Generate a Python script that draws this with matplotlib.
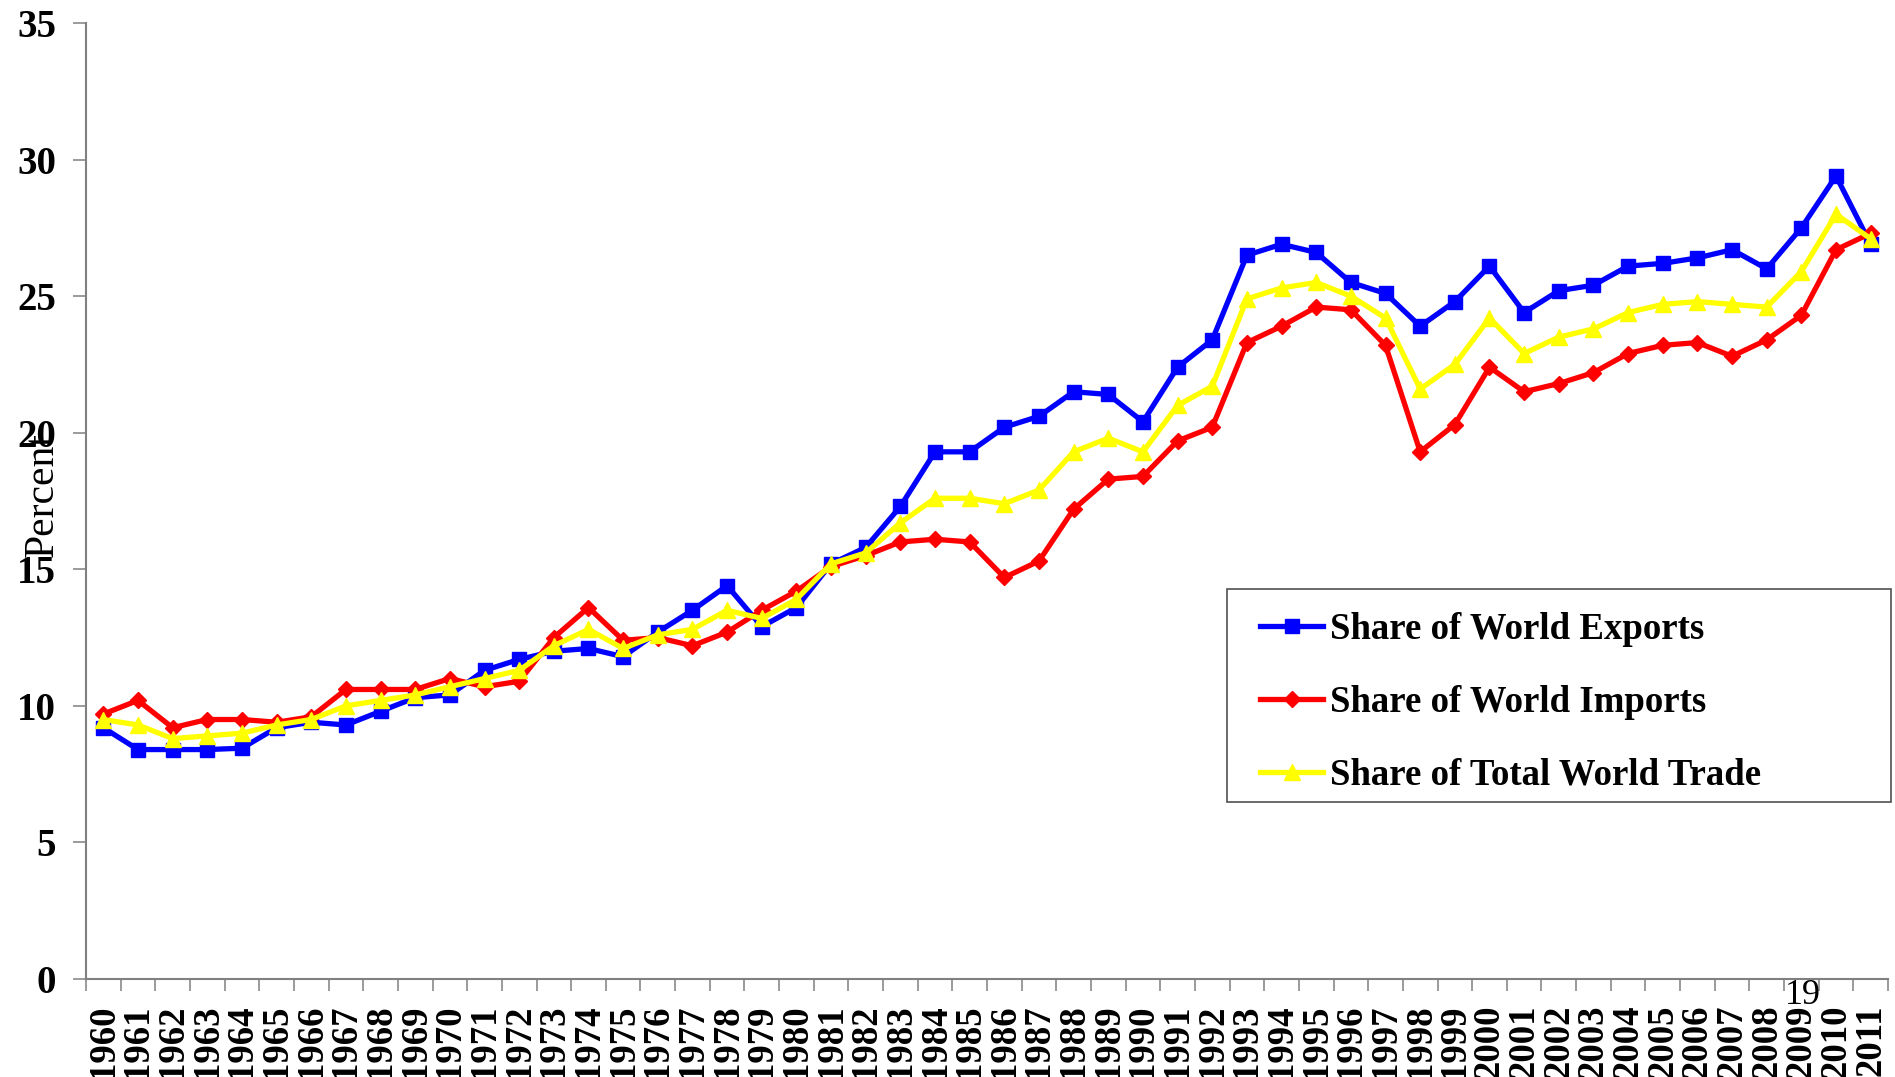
import numpy as np
import matplotlib
matplotlib.use('Agg')
import matplotlib.pyplot as plt
from matplotlib.patches import Rectangle

plt.rcParams['font.family'] = ['Liberation Serif', 'DejaVu Serif']

# share of world trade, percent, 1960-2011
years = np.arange(1960, 2012)
exports = [9.2, 8.4, 8.4, 8.4, 8.45, 9.2, 9.4, 9.3, 9.8, 10.3,
           10.4, 11.3, 11.7, 12.0, 12.1, 11.8, 12.7, 13.5, 14.4, 12.9,
           13.6, 15.2, 15.8, 17.3, 19.3, 19.3, 20.2, 20.6, 21.5, 21.4,
           20.4, 22.4, 23.4, 26.5, 26.9, 26.6, 25.5, 25.1, 23.9, 24.8,
           26.1, 24.4, 25.2, 25.4, 26.1, 26.2, 26.4, 26.7, 26.0, 27.5,
           29.4, 26.9]
imports = [9.7, 10.2, 9.2, 9.5, 9.5, 9.4, 9.6, 10.6, 10.6, 10.6,
           11.0, 10.7, 10.9, 12.5, 13.6, 12.4, 12.5, 12.2, 12.7, 13.5,
           14.2, 15.1, 15.5, 16.0, 16.1, 16.0, 14.7, 15.3, 17.2, 18.3,
           18.4, 19.7, 20.2, 23.3, 23.9, 24.6, 24.5, 23.2, 19.3, 20.3,
           22.4, 21.5, 21.8, 22.2, 22.9, 23.2, 23.3, 22.8, 23.4, 24.3,
           26.7, 27.3]
total = [9.5, 9.3, 8.8, 8.9, 9.0, 9.3, 9.5, 10.0, 10.2, 10.4,
         10.7, 11.0, 11.3, 12.2, 12.8, 12.1, 12.6, 12.8, 13.5, 13.2,
         13.9, 15.2, 15.6, 16.7, 17.6, 17.6, 17.4, 17.9, 19.3, 19.8,
         19.3, 21.0, 21.7, 24.9, 25.3, 25.5, 25.0, 24.2, 21.6, 22.5,
         24.2, 22.9, 23.5, 23.8, 24.4, 24.7, 24.8, 24.7, 24.6, 25.9,
         28.0, 27.1]
yticks = [0, 5, 10, 15, 20, 25, 30, 35]

W, H = 1895, 1077
fig = plt.figure(figsize=(W / 100, H / 100), dpi=100)
ax = fig.add_axes([86 / W, 1 - 979 / H, (1888 - 86) / W, (979 - 23) / H])

ax.plot(years, exports, color='#0000FF', lw=3.8, marker='s', ms=9.5,
        label='Share of World Exports')
ax.plot(years, imports, color='#FF0000', lw=3.8, marker='D', ms=8.5,
        label='Share of World Imports')
ax.plot(years, total, color='#FFFF00', lw=3.8, marker='^', ms=11,
        label='Share of Total World Trade')

ax.set_xlim(1959.5, 2011.5)
ax.set_ylim(0, 35)
ax.set_yticks(yticks)
ax.set_xticks(years)
ax.set_xticklabels([str(y) for y in years], rotation=90)
ax.set_xticks(np.arange(1959.5, 2012.5, 1.0), minor=True)

for side in ['top', 'right']:
    ax.spines[side].set_visible(False)
for side in ['left', 'bottom']:
    ax.spines[side].set_color('#808080')
    ax.spines[side].set_linewidth(1.5)

ax.tick_params(axis='y', direction='out', length=9.4, width=1.1, color='#808080',
               pad=12, labelsize=28)
ax.tick_params(axis='x', which='major', length=0, pad=18.5, labelsize=26.5)
ax.tick_params(axis='x', which='minor', direction='out', length=8.6, width=1.1,
               color='#808080')
for lab in ax.get_xticklabels() + ax.get_yticklabels():
    lab.set_fontweight('bold')

fig.text(43 / W, 1 - 495 / H, 'Percent', rotation=90, fontsize=30,
         ha='center', va='center')
fig.text(1803 / W, 1 - 995 / H, '19', fontsize=26, ha='center', va='center')

# legend box drawn separately, it is wider than the text
fig.patches.append(Rectangle((1227 / W, 1 - 802 / H), 664 / W, 213 / H,
                             transform=fig.transFigure, fill=False,
                             edgecolor='#505050', lw=1.2))
leg = ax.legend(loc='upper left', bbox_to_anchor=(1260 / W, 1 - 612 / H),
                bbox_transform=fig.transFigure, frameon=False,
                borderpad=0, borderaxespad=0, handlelength=1.72,
                handletextpad=0.17, labelspacing=1.03,
                prop={'size': 26.5, 'weight': 'bold'})

fig.savefig('out.png', dpi=100)
